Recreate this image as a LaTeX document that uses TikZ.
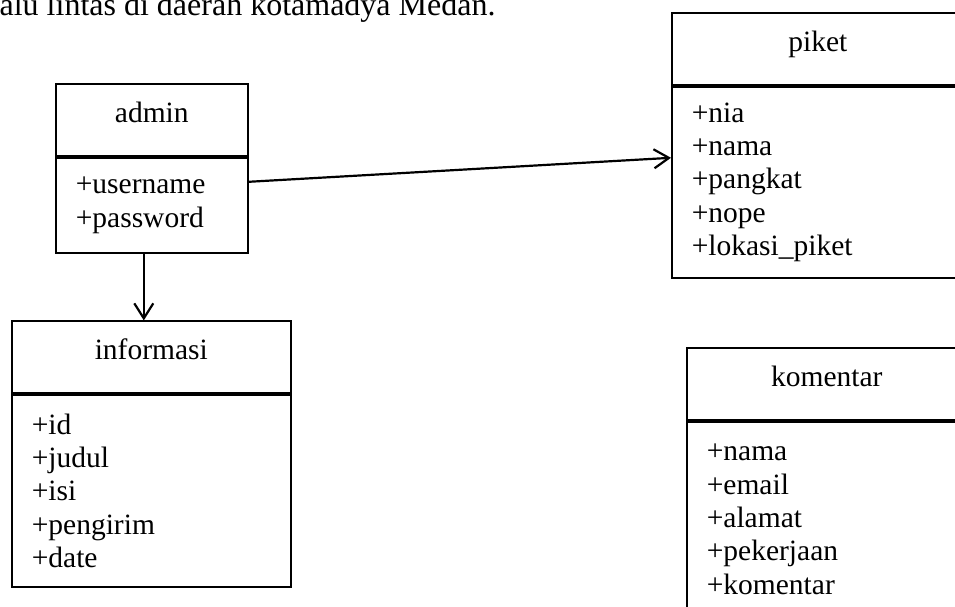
\documentclass[tikz,border=0pt]{standalone}
\usepackage{fontspec}
\setmainfont{Liberation Serif}
\usetikzlibrary{arrows.meta}

\begin{document}
\begin{tikzpicture}[x=1pt,y=-1pt,font=\fontsize{29.5}{33.3}\selectfont,
  head/.style={draw,line width=1.6pt,anchor=south west,inner sep=0pt,text height=38pt,text depth=34pt},
  attr/.style={draw,line width=1.6pt,anchor=north west,align=left,inner xsep=20pt,inner ysep=0pt},
  link/.style={->,line width=2.2pt},
  >={Straight Barb[length=15pt,width=19pt]}]
  \useasboundingbox (0,0) rectangle (955,607);
  \clip (0,0) rectangle (955,607);
  \node[anchor=base east,font=\fontsize{32}{36}\selectfont] (caption) at (499,16) {lalu lintas di daerah kotamadya Medan.};
  \path (55,157) node[head,minimum width=192pt] (adminhead) {admin}
    node[attr,minimum height=95pt,text width=152pt] (adminattr) {+username\\+password};
  \path (11,394) node[head,minimum width=279pt] (infohead) {informasi}
    node[attr,minimum height=192pt,text width=239pt] (infoattr) {+id\\+judul\\+isi\\+pengirim\\+date};
  \path (671,86) node[head,minimum width=292pt] (pikethead) {piket}
    node[attr,minimum height=191pt,text width=252pt] (piketattr) {+nia\\+nama\\+pangkat\\+nope\\+lokasi\_piket};
  \path (686,421) node[head,minimum width=280pt] (komenhead) {komentar}
    node[attr,minimum height=195pt,text width=240pt] (komenattr) {+nama\\+email\\+alamat\\+pekerjaan\\+komentar};
  \draw[link] ([yshift=23.5pt]adminattr.east) -- ([yshift=24.5pt]piketattr.west);
  \draw[link] ([xshift=-8pt]adminattr.south) -- ([xshift=-7.5pt]infohead.north);
\end{tikzpicture}
\end{document}
